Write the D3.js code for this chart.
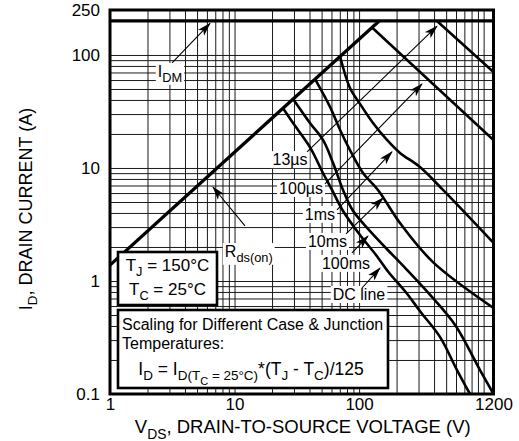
<!DOCTYPE html>
<html><head><meta charset="utf-8">
<script src="https://cdn.jsdelivr.net/npm/d3@7"></script>
<style>
body{margin:0;background:#fff;}
svg{display:block;font-family:"Liberation Sans",Arial,Helvetica,sans-serif;}
</style></head><body>
<svg id="c" width="519" height="441"></svg>
<script>
// ---------- data ----------
const xDomain = [1, 1200];
const yDomain = [0.1, 250];
const xTickValues = [1, 10, 100, 1200];
const xTickLabels = ["1", "10", "100", "1200"];
const yTickValues = [0.1, 1, 10, 100, 250];
const yTickLabels = ["0.1", "1", "10", "100", "250"];

const idmLimit = [[1, 200], [1200, 200]];
const rdsOn    = [[1, 1.38], [145, 200]];
const sp13us   = [[422, 200], [1200, 70.7]];
const sp100us  = [[127, 175], [1200, 17.7]];
const sp1ms    = [[70.4, 97], [84.5, 51], [101.7, 36.9], [129.3, 25], [167.5, 17.7], [212.9, 13.6], [308, 10.2], [472, 6.39], [1200, 2.17]];
const sp10ms   = [[44.3, 61], [58.4, 34.7], [70.4, 21.7], [84.5, 14.4], [107.5, 9.03], [141.8, 6.39], [212.9, 3.26], [392, 1.47], [1200, 0.577]];
const sp100ms  = [[29.5, 40.7], [40.3, 25], [51.3, 17.7], [61.7, 11.1], [74.3, 6.39], [88.5, 4.25], [120, 2.83], [170, 1.88], [235, 1.30], [372, 0.752], [590, 0.408], [935, 0.163], [1200, 0.1]];
const spDC     = [[24.5, 33.8], [29.5, 25], [40.3, 15.3], [51.3, 9.03], [60.6, 6.39], [73.5, 4.25], [101.7, 2.55], [136.7, 1.70], [172, 1.20], [240, 0.783], [312, 0.532], [446, 0.320], [611, 0.163], [777, 0.1]];

// annotation labels: parts [text, level], anchor position in data space (text centre, baseline)
const curveLabels = [
  {parts: [["I", 0], ["DM", 1]], at: [3.03, 63.9]},
  {parts: [["13µs", 0]], at: [27.9, 10.6]},
  {parts: [["100µs", 0]], at: [34.2, 5.89]},
  {parts: [["1ms", 0]], at: [48.5, 3.47]},
  {parts: [["R", 0], ["ds(on)", 1]], at: [13.0, 1.63]},
  {parts: [["10ms", 0]], at: [55.7, 2.0]},
  {parts: [["100ms", 0]], at: [78.5, 1.28]},
  {parts: [["DC line", 0]], at: [99.8, 0.679]}
];
// arrows: [tail, tip] in data space
const arrows = [
  [[3.15, 85], [6.35, 190]],
  [[38.2, 13.9], [422, 180]],
  [[53.2, 7.22], [320, 55.4]],
  [[66.5, 4.25], [183.7, 13.9]],
  [[78.5, 2.61], [155.6, 5.43]],
  [[87.7, 1.77], [117.9, 2.5]],
  [[105.5, 0.867], [147.2, 1.30]],
  [[12.13, 3.07], [6.71, 6.79]]
];

// ---------- layout ----------
const m = {l: 110, r: 493.5, t: 10, b: 394};
const x = d3.scaleLog().domain(xDomain).range([m.l, m.r]);
const y = d3.scaleLog().domain(yDomain).range([m.b, m.t]);
const svg = d3.select("#c");

const defs = svg.append("defs");
defs.append("clipPath").attr("id", "clip").append("rect")
  .attr("x", m.l).attr("y", m.t).attr("width", m.r - m.l).attr("height", m.b - m.t);
defs.append("marker").attr("id", "ah").attr("markerUnits", "userSpaceOnUse")
  .attr("viewBox", "0 -5 14 10").attr("refX", 13).attr("refY", 0)
  .attr("markerWidth", 14).attr("markerHeight", 10).attr("orient", "auto")
  .append("path").attr("d", "M0,-4.2L14,0L0,4.2L3.5,0Z").attr("fill", "#000");

// grid
svg.append("g").attr("transform", `translate(0,${m.b})`)
  .call(d3.axisBottom(x).tickValues(x.ticks()).tickSize(-(m.b - m.t)).tickFormat(""))
  .call(g => g.select(".domain").remove())
  .selectAll("line").attr("stroke", "#1a1a1a").attr("stroke-width", 1);
svg.append("g").attr("transform", `translate(${m.l},0)`)
  .call(d3.axisLeft(y).tickValues(y.ticks()).tickSize(-(m.r - m.l)).tickFormat(""))
  .call(g => g.select(".domain").remove())
  .selectAll("line").attr("stroke", "#1a1a1a").attr("stroke-width", 1);

// rich text helper
function rich(sel, parts, size, subRatio) {
  const r = subRatio || 0.75;
  const off = [0, 0.3 * size, 0.55 * size];
  const sz = [size, size * r, size * r * 0.82];
  let cur = 0;
  parts.forEach(([t, lv]) => {
    sel.append("tspan").attr("dy", off[lv] - cur).attr("font-size", sz[lv]).text(t);
    cur = off[lv];
  });
  return sel;
}

const bgG = svg.append("g");
const curveG = svg.append("g").attr("clip-path", "url(#clip)");
const arrowG = svg.append("g");
const textG = svg.append("g");

// curves
const line = d3.line().x(d => x(d[0])).y(d => y(d[1])).curve(d3.curveCatmullRom.alpha(0.5));
[[idmLimit, 3.2], [rdsOn, 3.2], [sp13us, 2.6], [sp100us, 2.6], [sp1ms, 2.6], [sp10ms, 2.6], [sp100ms, 2.6], [spDC, 2.6]]
  .forEach(([d, w]) => curveG.append("path").datum(d).attr("d", line)
    .attr("fill", "none").attr("stroke", "#000").attr("stroke-width", w)
    .attr("stroke-linejoin", "round"));

// arrows
arrows.forEach(([a, b]) => arrowG.append("line")
  .attr("x1", x(a[0])).attr("y1", y(a[1])).attr("x2", x(b[0])).attr("y2", y(b[1]))
  .attr("stroke", "#000").attr("stroke-width", 1.1).attr("marker-end", "url(#ah)"));

// labels with white background
curveLabels.forEach(l => {
  const t = textG.append("text").attr("x", x(l.at[0])).attr("y", y(l.at[1]))
    .attr("text-anchor", "middle").attr("fill", "#000");
  rich(t, l.parts, 16, 0.8);
  const bb = t.node().getBBox();
  bgG.append("rect").attr("x", bb.x - 2).attr("y", bb.y).attr("width", bb.width + 4)
    .attr("height", bb.height).attr("fill", "#fff");
});

// info boxes
const boxG = svg.append("g");
boxG.append("rect").attr("x", 118).attr("y", 252).attr("width", 99).attr("height", 53)
  .attr("fill", "#fff").attr("stroke", "#000").attr("stroke-width", 2.6);
rich(boxG.append("text").attr("x", 167.5).attr("y", 271).attr("text-anchor", "middle"),
  [["T", 0], ["J", 1], [" = 150°C", 0]], 17);
rich(boxG.append("text").attr("x", 167.5).attr("y", 295).attr("text-anchor", "middle"),
  [["T", 0], ["C", 1], [" = 25°C", 0]], 17);

boxG.append("rect").attr("x", 118).attr("y", 310).attr("width", 270).attr("height", 78)
  .attr("fill", "#fff").attr("stroke", "#000").attr("stroke-width", 2.6);
boxG.append("text").attr("x", 122).attr("y", 330).attr("font-size", 16).text("Scaling for Different Case & Junction");
boxG.append("text").attr("x", 122).attr("y", 349).attr("font-size", 16).text("Temperatures:");
rich(boxG.append("text").attr("x", 251).attr("y", 375).attr("text-anchor", "middle"),
  [["I", 0], ["D", 1], [" = I", 0], ["D(T", 1], ["C", 2], [" = 25°C)", 1], ["*(T", 0], ["J", 1], [" - T", 0], ["C", 1], [")/125", 0]], 17.5, 0.77);

// frame
svg.append("rect").attr("x", m.l).attr("y", m.t).attr("width", m.r - m.l).attr("height", m.b - m.t)
  .attr("fill", "none").attr("stroke", "#000").attr("stroke-width", 3);

// tick labels
svg.append("g").attr("transform", `translate(0,${m.b})`)
  .call(d3.axisBottom(x).tickValues(xTickValues).tickFormat((d, i) => xTickLabels[i]).tickSize(0).tickPadding(4))
  .call(g => g.select(".domain").remove())
  .selectAll("text").attr("font-size", 17).attr("font-family", "Liberation Sans, Arial, sans-serif").attr("fill", "#000");
svg.append("g").attr("transform", `translate(${m.l},0)`)
  .call(d3.axisLeft(y).tickValues(yTickValues).tickFormat((d, i) => yTickLabels[i]).tickSize(0).tickPadding(10))
  .call(g => g.select(".domain").remove())
  .selectAll("text").attr("font-size", 17).attr("font-family", "Liberation Sans, Arial, sans-serif").attr("fill", "#000");

// axis titles
rich(svg.append("text").attr("x", (m.l + m.r) / 2 + 1).attr("y", 433).attr("text-anchor", "middle"),
  [["V", 0], ["DS", 1], [", DRAIN-TO-SOURCE VOLTAGE (V)", 0]], 18.5);
rich(svg.append("text").attr("transform", `translate(32,${(m.t + m.b) / 2 + 7}) rotate(-90)`).attr("text-anchor", "middle"),
  [["I", 0], ["D", 1], [", DRAIN CURRENT (A)", 0]], 18);
</script>
</body></html>
